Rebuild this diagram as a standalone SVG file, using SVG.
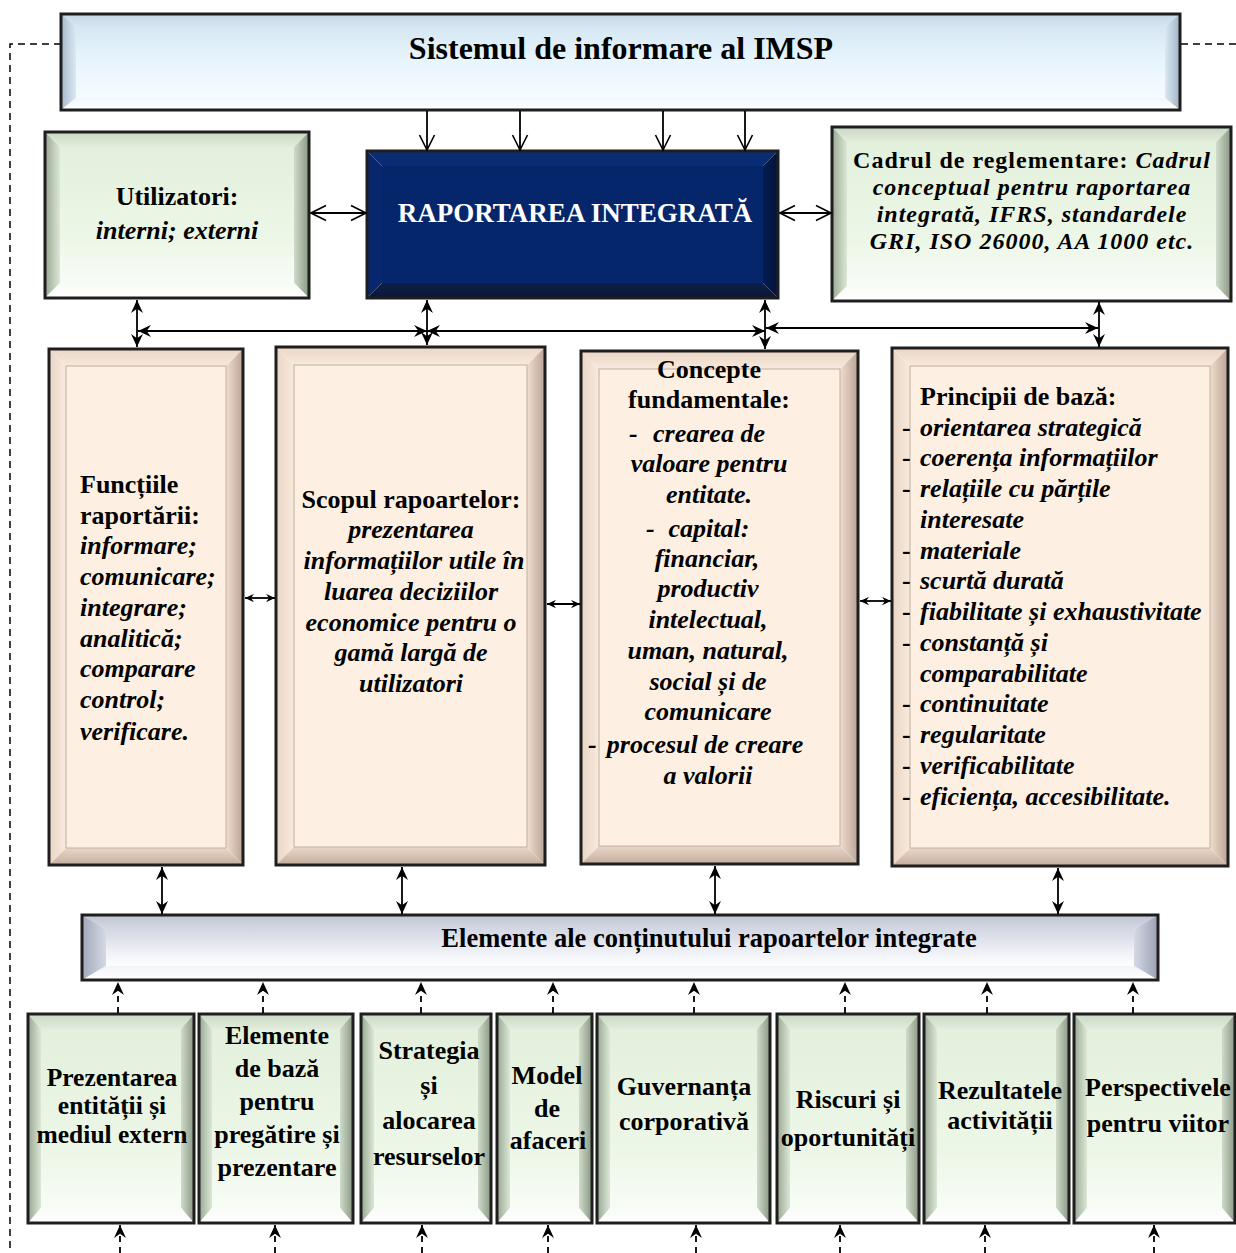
<svg xmlns="http://www.w3.org/2000/svg" width="1236" height="1253" viewBox="0 0 1236 1253">
<defs>
<style>
.t{font-family:'Liberation Serif','Times New Roman',serif;font-size:26px;fill:#000}
.b{font-weight:bold}
.bi{font-weight:bold;font-style:italic}
.i{font-style:italic}
.c{text-anchor:middle}
.cad{font-size:24px;letter-spacing:1px}
.bd{fill:none;stroke:#1e1e1e;stroke-width:3}
.gL{fill:url(#gL)}.gR{fill:url(#gR)}.gT{fill:url(#gT)}.gB{fill:url(#gB)}.gF{fill:url(#gF)}
.pL{fill:url(#pL)}.pR{fill:url(#pR)}.pT{fill:url(#pT)}.pB{fill:url(#pB)}.pF{fill:#fdf0e3;stroke:#c4ae9f;stroke-width:1}
.bL{fill:url(#bL)}.bR{fill:url(#bR)}.bT{fill:url(#bT)}.bB{fill:url(#bB)}.bF{fill:url(#bF)}
.eL{fill:url(#eL)}.eR{fill:url(#eR)}.eT{fill:url(#eT)}.eB{fill:url(#eB)}.eF{fill:url(#eF)}
.nL{fill:#08276e}.nR{fill:url(#nR)}.nT{fill:#0a2c74}.nB{fill:url(#nB)}.nF{fill:#06266c}
.ln{fill:none;stroke:#000;stroke-width:1.8}
.dl{fill:none;stroke:#000;stroke-width:1.8;stroke-dasharray:6 5}
.frame{fill:none;stroke:#000;stroke-width:1.5;stroke-dasharray:7 5}
</style>
<linearGradient id="gL" x1="0" y1="0" x2="1" y2="0"><stop offset="0" stop-color="#97a792"/><stop offset="1" stop-color="#dce8d6"/></linearGradient>
<linearGradient id="gR" x1="0" y1="0" x2="1" y2="0"><stop offset="0" stop-color="#d0dcca"/><stop offset="1" stop-color="#889784"/></linearGradient>
<linearGradient id="gT" x1="0" y1="0" x2="0" y2="1"><stop offset="0" stop-color="#cad7c4"/><stop offset="1" stop-color="#e2ecdc"/></linearGradient>
<linearGradient id="gB" x1="0" y1="0" x2="0" y2="1"><stop offset="0" stop-color="#f7fbf5"/><stop offset="1" stop-color="#ffffff"/></linearGradient>
<linearGradient id="gF" x1="0" y1="0" x2="0" y2="1"><stop offset="0" stop-color="#e3f0dc"/><stop offset="0.7" stop-color="#edf7e8"/><stop offset="1" stop-color="#f8fcf6"/></linearGradient>
<linearGradient id="pL" x1="0" y1="0" x2="1" y2="0"><stop offset="0" stop-color="#e9d5c5"/><stop offset="1" stop-color="#f8eadd"/></linearGradient>
<linearGradient id="pR" x1="0" y1="0" x2="1" y2="0"><stop offset="0" stop-color="#f0ddcf"/><stop offset="1" stop-color="#b9a394"/></linearGradient>
<linearGradient id="pT" x1="0" y1="0" x2="0" y2="1"><stop offset="0" stop-color="#ead6c6"/><stop offset="1" stop-color="#f7e9dc"/></linearGradient>
<linearGradient id="pB" x1="0" y1="0" x2="0" y2="1"><stop offset="0" stop-color="#ead7c8"/><stop offset="1" stop-color="#c4ad9d"/></linearGradient>
<linearGradient id="bL" x1="0" y1="0" x2="1" y2="0"><stop offset="0" stop-color="#a7b8c8"/><stop offset="1" stop-color="#dce9f3"/></linearGradient>
<linearGradient id="bR" x1="0" y1="0" x2="1" y2="0"><stop offset="0" stop-color="#dce9f3"/><stop offset="1" stop-color="#9fb1c2"/></linearGradient>
<linearGradient id="bT" x1="0" y1="0" x2="0" y2="1"><stop offset="0" stop-color="#c6d6e4"/><stop offset="1" stop-color="#d4e4f0"/></linearGradient>
<linearGradient id="bB" x1="0" y1="0" x2="0" y2="1"><stop offset="0" stop-color="#f0f8fd"/><stop offset="1" stop-color="#ffffff"/></linearGradient>
<linearGradient id="bF" x1="0" y1="0" x2="0" y2="1"><stop offset="0" stop-color="#d6e7f3"/><stop offset="0.5" stop-color="#e8f5fd"/><stop offset="1" stop-color="#f6fcff"/></linearGradient>
<linearGradient id="eL" x1="0" y1="0" x2="1" y2="0"><stop offset="0" stop-color="#a0a7b8"/><stop offset="1" stop-color="#d5d9e5"/></linearGradient>
<linearGradient id="eR" x1="0" y1="0" x2="1" y2="0"><stop offset="0" stop-color="#d5d9e5"/><stop offset="1" stop-color="#9aa1b3"/></linearGradient>
<linearGradient id="eT" x1="0" y1="0" x2="0" y2="1"><stop offset="0" stop-color="#c0c5d3"/><stop offset="1" stop-color="#d4d8e4"/></linearGradient>
<linearGradient id="eB" x1="0" y1="0" x2="0" y2="1"><stop offset="0" stop-color="#f2f4f8"/><stop offset="1" stop-color="#ffffff"/></linearGradient>
<linearGradient id="eF" x1="0" y1="0" x2="0" y2="1"><stop offset="0" stop-color="#d3d7e3"/><stop offset="0.6" stop-color="#eef0f6"/><stop offset="1" stop-color="#ffffff"/></linearGradient>
<linearGradient id="nR" x1="0" y1="0" x2="1" y2="0"><stop offset="0" stop-color="#041c52"/><stop offset="1" stop-color="#031338"/></linearGradient>
<linearGradient id="nB" x1="0" y1="0" x2="0" y2="1"><stop offset="0" stop-color="#0d1f48"/><stop offset="1" stop-color="#0a1636"/></linearGradient>
<marker id="ov" viewBox="0 0 12 12" refX="11" refY="6" markerWidth="18" markerHeight="18" markerUnits="userSpaceOnUse" orient="auto-start-reverse"><path d="M1,1 L11,6 L1,11" fill="none" stroke="#000" stroke-width="1.1"/></marker>
<marker id="fa" viewBox="0 0 12 12" refX="12" refY="6" markerWidth="13" markerHeight="13" markerUnits="userSpaceOnUse" orient="auto-start-reverse"><path d="M0,0.5 L12,6 L0,11.5 L4,6 Z" fill="#000"/></marker>
<marker id="sa" viewBox="0 0 12 12" refX="12" refY="6" markerWidth="9" markerHeight="9" markerUnits="userSpaceOnUse" orient="auto-start-reverse"><path d="M0,0.5 L12,6 L0,11.5 L4,6 Z" fill="#000"/></marker>
</defs>
<rect width="1236" height="1253" fill="#fff"/>

<g id="frame">
<path class="frame" d="M61,44 H10 V1253"/>
<path class="frame" d="M1181,44 H1236"/>
</g>

<g id="sistemul">
<polygon class="bT" points="61,14 1180,14 1165,26 76,26"/>
<polygon class="bL" points="61,14 76,26 76,98 61,110"/>
<polygon class="bR" points="1180,14 1180,110 1165,98 1165,26"/>
<polygon class="bB" points="61,110 76,98 1165,98 1180,110"/>
<rect class="bF" x="76" y="26" width="1089" height="72"/>
<rect class="bd" x="61" y="14" width="1119" height="96"/>
<text class="t b c" x="621" y="59" style="font-size:32px">Sistemul de informare al IMSP</text>
</g>

<g id="utilizatori">
<polygon class="gT" points="45,132 309,132 294,147 60,147"/>
<polygon class="gL" points="45,132 60,147 60,283 45,298"/>
<polygon class="gR" points="309,132 309,298 294,283 294,147"/>
<polygon class="gB" points="45,298 60,283 294,283 309,298"/>
<rect class="gF" x="60" y="147" width="234" height="136"/>
<rect class="bd" x="45" y="132" width="264" height="166"/>
<text class="t b c" x="177" y="205">Utilizatori:</text>
<text class="t bi c" x="177" y="239">interni; externi</text>
</g>

<g id="raportarea">
<polygon class="nT" points="367,151 778,151 763,166 382,166"/>
<polygon class="nL" points="367,151 382,166 382,283 367,298"/>
<polygon class="nR" points="778,151 778,298 763,283 763,166"/>
<polygon class="nB" points="367,298 382,283 763,283 778,298"/>
<rect class="nF" x="382" y="166" width="381" height="117"/>
<rect class="bd" x="367" y="151" width="411" height="147"/>
<text class="t b c" x="575" y="222" style="fill:#fff;font-size:27px">RAPORTAREA INTEGRATĂ</text>
</g>

<g id="cadrul">
<polygon class="gT" points="832,127 1231,127 1216,142 847,142"/>
<polygon class="gL" points="832,127 847,142 847,286 832,301"/>
<polygon class="gR" points="1231,127 1231,301 1216,286 1216,142"/>
<polygon class="gB" points="832,301 847,286 1216,286 1231,301"/>
<rect class="gF" x="847" y="142" width="369" height="144"/>
<rect class="bd" x="832" y="127" width="399" height="174"/>
<text class="t cad c" x="1032" y="168"><tspan class="b">Cadrul de reglementare: </tspan><tspan class="bi">Cadrul</tspan></text>
<text class="t cad bi c" x="1032" y="195">conceptual pentru raportarea</text>
<text class="t cad bi c" x="1032" y="222">integrată, IFRS, standardele</text>
<text class="t cad bi c" x="1032" y="249">GRI, ISO 26000, AA 1000 etc.</text>
</g>

<g id="functiile">
<polygon class="pT" points="49,349 243,349 226,366 66,366"/>
<polygon class="pL" points="49,349 66,366 66,848 49,865"/>
<polygon class="pR" points="243,349 243,865 226,848 226,366"/>
<polygon class="pB" points="49,865 66,848 226,848 243,865"/>
<rect class="pF" x="66" y="366" width="160" height="482"/>
<rect class="bd" x="49" y="349" width="194" height="516"/>
<text class="t b" x="80" y="493">Funcțiile</text>
<text class="t b" x="80" y="524">raportării:</text>
<text class="t bi" x="80" y="554">informare;</text>
<text class="t bi" x="80" y="585">comunicare;</text>
<text class="t bi" x="80" y="616">integrare;</text>
<text class="t bi" x="80" y="647">analitică;</text>
<text class="t bi" x="80" y="677">comparare</text>
<text class="t bi" x="80" y="708">control;</text>
<text class="t bi" x="80" y="740">verificare.</text>
</g>

<g id="scopul">
<polygon class="pT" points="276,347 545,347 527,365 294,365"/>
<polygon class="pL" points="276,347 294,365 294,847 276,865"/>
<polygon class="pR" points="545,347 545,865 527,847 527,365"/>
<polygon class="pB" points="276,865 294,847 527,847 545,865"/>
<rect class="pF" x="294" y="365" width="233" height="482"/>
<rect class="bd" x="276" y="347" width="269" height="518"/>
<text class="t b c" x="411" y="508">Scopul rapoartelor:</text>
<text class="t bi c" x="411" y="538">prezentarea</text>
<text class="t bi c" x="414" y="569">informațiilor utile în</text>
<text class="t bi c" x="411" y="600">luarea deciziilor</text>
<text class="t bi c" x="411" y="631">economice pentru o</text>
<text class="t bi c" x="411" y="661">gamă largă de</text>
<text class="t bi c" x="411" y="692">utilizatori</text>
</g>

<g id="concepte">
<polygon class="pT" points="581,351 858,351 840,369 599,369"/>
<polygon class="pL" points="581,351 599,369 599,846 581,864"/>
<polygon class="pR" points="858,351 858,864 840,846 840,369"/>
<polygon class="pB" points="581,864 599,846 840,846 858,864"/>
<rect class="pF" x="599" y="369" width="241" height="477"/>
<rect class="bd" x="581" y="351" width="277" height="513"/>
<text class="t b c" x="709" y="378">Concepte</text>
<text class="t b c" x="709" y="408">fundamentale:</text>
<text class="t bi" x="629" y="442">-</text>
<text class="t bi c" x="709" y="442">crearea de</text>
<text class="t bi c" x="709" y="472">valoare pentru</text>
<text class="t bi c" x="709" y="503">entitate.</text>
<text class="t bi" x="646" y="537">-</text>
<text class="t bi c" x="709" y="537">capital:</text>
<text class="t bi c" x="707" y="567">financiar,</text>
<text class="t bi c" x="708" y="597">productiv</text>
<text class="t bi c" x="708" y="628">intelectual,</text>
<text class="t bi c" x="708" y="659">uman, natural,</text>
<text class="t bi c" x="708" y="690">social și de</text>
<text class="t bi c" x="708" y="720">comunicare</text>
<text class="t bi" x="588" y="753">-</text>
<text class="t bi c" x="705" y="753">procesul de creare</text>
<text class="t bi c" x="708" y="784">a valorii</text>
</g>

<g id="principii">
<polygon class="pT" points="892,348 1228,348 1210,366 910,366"/>
<polygon class="pL" points="892,348 910,366 910,848 892,866"/>
<polygon class="pR" points="1228,348 1228,866 1210,848 1210,366"/>
<polygon class="pB" points="892,866 910,848 1210,848 1228,866"/>
<rect class="pF" x="910" y="366" width="300" height="482"/>
<rect class="bd" x="892" y="348" width="336" height="518"/>
<text class="t b" x="920" y="405">Principii de bază:</text>
<text class="t b" x="902" y="436">-</text><text class="t bi" x="920" y="436">orientarea strategică</text>
<text class="t b" x="902" y="466">-</text><text class="t bi" x="920" y="466">coerența informațiilor</text>
<text class="t b" x="902" y="497">-</text><text class="t bi" x="920" y="497">relațiile cu părțile</text>
<text class="t bi" x="920" y="528">interesate</text>
<text class="t b" x="902" y="559">-</text><text class="t bi" x="920" y="559">materiale</text>
<text class="t b" x="902" y="589">-</text><text class="t bi" x="920" y="589">scurtă durată</text>
<text class="t b" x="902" y="620">-</text><text class="t bi" x="920" y="620">fiabilitate și exhaustivitate</text>
<text class="t b" x="902" y="651">-</text><text class="t bi" x="920" y="651">constanță și</text>
<text class="t bi" x="920" y="682">comparabilitate</text>
<text class="t b" x="902" y="712">-</text><text class="t bi" x="920" y="712">continuitate</text>
<text class="t b" x="902" y="743">-</text><text class="t bi" x="920" y="743">regularitate</text>
<text class="t b" x="902" y="774">-</text><text class="t bi" x="920" y="774">verificabilitate</text>
<text class="t b" x="902" y="805">-</text><text class="t bi" x="920" y="805">eficiența, accesibilitate.</text>
</g>

<g id="elemente-continut">
<polygon class="eT" points="82,915 1158,915 1134,929 106,929"/>
<polygon class="eL" points="82,915 106,929 106,966 82,980"/>
<polygon class="eR" points="1158,915 1158,980 1134,966 1134,929"/>
<polygon class="eB" points="82,980 106,966 1134,966 1158,980"/>
<rect class="eF" x="106" y="929" width="1028" height="37"/>
<rect class="bd" x="82" y="915" width="1076" height="65"/>
<text class="t b c" x="709" y="947" style="font-size:26.5px">Elemente ale conținutului rapoartelor integrate</text>
</g>

<g id="prezentarea">
<polygon class="gT" points="28,1014 194,1014 181,1029 41,1029"/>
<polygon class="gL" points="28,1014 41,1029 41,1208 28,1223"/>
<polygon class="gR" points="194,1014 194,1223 181,1208 181,1029"/>
<polygon class="gB" points="28,1223 41,1208 181,1208 194,1223"/>
<rect class="gF" x="41" y="1029" width="140" height="179"/>
<rect class="bd" x="28" y="1014" width="166" height="209"/>
<text class="t b c" x="112" y="1086" style="font-size:25.5px">Prezentarea</text>
<text class="t b c" x="112" y="1114" style="font-size:25.5px">entității și</text>
<text class="t b c" x="112" y="1143" style="font-size:25.5px">mediul extern</text>
</g>

<g id="elemente-baza">
<polygon class="gT" points="199,1014 353,1014 340,1029 212,1029"/>
<polygon class="gL" points="199,1014 212,1029 212,1208 199,1223"/>
<polygon class="gR" points="353,1014 353,1223 340,1208 340,1029"/>
<polygon class="gB" points="199,1223 212,1208 340,1208 353,1223"/>
<rect class="gF" x="212" y="1029" width="128" height="179"/>
<rect class="bd" x="199" y="1014" width="154" height="209"/>
<text class="t b c" x="277" y="1044">Elemente</text>
<text class="t b c" x="277" y="1077">de bază</text>
<text class="t b c" x="277" y="1110">pentru</text>
<text class="t b c" x="277" y="1143">pregătire și</text>
<text class="t b c" x="277" y="1176">prezentare</text>
</g>

<g id="strategia">
<polygon class="gT" points="361,1014 491,1014 478,1029 374,1029"/>
<polygon class="gL" points="361,1014 374,1029 374,1208 361,1223"/>
<polygon class="gR" points="491,1014 491,1223 478,1208 478,1029"/>
<polygon class="gB" points="361,1223 374,1208 478,1208 491,1223"/>
<rect class="gF" x="374" y="1029" width="104" height="179"/>
<rect class="bd" x="361" y="1014" width="130" height="209"/>
<text class="t b c" x="429" y="1059">Strategia</text>
<text class="t b c" x="429" y="1094">și</text>
<text class="t b c" x="429" y="1129">alocarea</text>
<text class="t b c" x="429" y="1165">resurselor</text>
</g>

<g id="model">
<polygon class="gT" points="497,1014 592,1014 579,1029 510,1029"/>
<polygon class="gL" points="497,1014 510,1029 510,1208 497,1223"/>
<polygon class="gR" points="592,1014 592,1223 579,1208 579,1029"/>
<polygon class="gB" points="497,1223 510,1208 579,1208 592,1223"/>
<rect class="gF" x="510" y="1029" width="69" height="179"/>
<rect class="bd" x="497" y="1014" width="95" height="209"/>
<text class="t b c" x="547" y="1084">Model</text>
<text class="t b c" x="547" y="1117">de</text>
<text class="t b c" x="548" y="1149">afaceri</text>
</g>

<g id="guvernanta">
<polygon class="gT" points="597,1014 770,1014 757,1029 610,1029"/>
<polygon class="gL" points="597,1014 610,1029 610,1208 597,1223"/>
<polygon class="gR" points="770,1014 770,1223 757,1208 757,1029"/>
<polygon class="gB" points="597,1223 610,1208 757,1208 770,1223"/>
<rect class="gF" x="610" y="1029" width="147" height="179"/>
<rect class="bd" x="597" y="1014" width="173" height="209"/>
<text class="t b c" x="684" y="1095">Guvernanța</text>
<text class="t b c" x="684" y="1130">corporativă</text>
</g>

<g id="riscuri">
<polygon class="gT" points="777,1014 919,1014 906,1029 790,1029"/>
<polygon class="gL" points="777,1014 790,1029 790,1208 777,1223"/>
<polygon class="gR" points="919,1014 919,1223 906,1208 906,1029"/>
<polygon class="gB" points="777,1223 790,1208 906,1208 919,1223"/>
<rect class="gF" x="790" y="1029" width="116" height="179"/>
<rect class="bd" x="777" y="1014" width="142" height="209"/>
<text class="t b c" x="848" y="1108">Riscuri și</text>
<text class="t b c" x="848" y="1146">oportunități</text>
</g>

<g id="rezultatele">
<polygon class="gT" points="924,1014 1069,1014 1056,1029 937,1029"/>
<polygon class="gL" points="924,1014 937,1029 937,1208 924,1223"/>
<polygon class="gR" points="1069,1014 1069,1223 1056,1208 1056,1029"/>
<polygon class="gB" points="924,1223 937,1208 1056,1208 1069,1223"/>
<rect class="gF" x="937" y="1029" width="119" height="179"/>
<rect class="bd" x="924" y="1014" width="145" height="209"/>
<text class="t b c" x="1000" y="1099">Rezultatele</text>
<text class="t b c" x="1000" y="1129">activității</text>
</g>

<g id="perspectivele">
<polygon class="gT" points="1074,1014 1235,1014 1222,1029 1087,1029"/>
<polygon class="gL" points="1074,1014 1087,1029 1087,1208 1074,1223"/>
<polygon class="gR" points="1235,1014 1235,1223 1222,1208 1222,1029"/>
<polygon class="gB" points="1074,1223 1087,1208 1222,1208 1235,1223"/>
<rect class="gF" x="1087" y="1029" width="135" height="179"/>
<rect class="bd" x="1074" y="1014" width="161" height="209"/>
<text class="t b c" x="1158" y="1096">Perspectivele</text>
<text class="t b c" x="1158" y="1132">pentru viitor</text>
</g>

<g id="connectors">
<line class="ln" x1="427" y1="111" x2="427" y2="150" marker-end="url(#ov)"/>
<line class="ln" x1="520" y1="111" x2="520" y2="150" marker-end="url(#ov)"/>
<line class="ln" x1="663" y1="111" x2="663" y2="150" marker-end="url(#ov)"/>
<line class="ln" x1="745" y1="111" x2="745" y2="150" marker-end="url(#ov)"/>
<line class="ln" x1="311" y1="213" x2="366" y2="213" marker-start="url(#ov)" marker-end="url(#ov)"/>
<line class="ln" x1="780" y1="213" x2="831" y2="213" marker-start="url(#ov)" marker-end="url(#ov)"/>
<line class="ln" x1="137" y1="300" x2="137" y2="347" marker-start="url(#fa)" marker-end="url(#fa)"/>
<line class="ln" x1="427" y1="300" x2="427" y2="345" marker-start="url(#fa)" marker-end="url(#fa)"/>
<line class="ln" x1="765" y1="300" x2="765" y2="349" marker-start="url(#fa)" marker-end="url(#fa)"/>
<line class="ln" x1="1099" y1="302" x2="1099" y2="347" marker-start="url(#fa)" marker-end="url(#fa)"/>
<line class="ln" x1="138" y1="331" x2="427" y2="331" marker-start="url(#fa)" marker-end="url(#fa)"/>
<line class="ln" x1="427" y1="331" x2="765" y2="331" marker-start="url(#fa)" marker-end="url(#fa)"/>
<line class="ln" x1="766" y1="328" x2="1098" y2="328" marker-start="url(#fa)" marker-end="url(#fa)"/>
<line class="ln" x1="245" y1="598" x2="275" y2="598" marker-start="url(#sa)" marker-end="url(#sa)"/>
<line class="ln" x1="547" y1="604" x2="580" y2="604" marker-start="url(#sa)" marker-end="url(#sa)"/>
<line class="ln" x1="860" y1="601" x2="891" y2="601" marker-start="url(#sa)" marker-end="url(#sa)"/>
<line class="ln" x1="162" y1="867" x2="162" y2="914" marker-start="url(#fa)" marker-end="url(#fa)"/>
<line class="ln" x1="402" y1="867" x2="402" y2="914" marker-start="url(#fa)" marker-end="url(#fa)"/>
<line class="ln" x1="715" y1="866" x2="715" y2="914" marker-start="url(#fa)" marker-end="url(#fa)"/>
<line class="ln" x1="1058" y1="868" x2="1058" y2="914" marker-start="url(#fa)" marker-end="url(#fa)"/>
<line class="dl" x1="118" y1="1013" x2="118" y2="982" marker-end="url(#fa)"/>
<line class="dl" x1="263" y1="1013" x2="263" y2="982" marker-end="url(#fa)"/>
<line class="dl" x1="421" y1="1013" x2="421" y2="982" marker-end="url(#fa)"/>
<line class="dl" x1="553" y1="1013" x2="553" y2="982" marker-end="url(#fa)"/>
<line class="dl" x1="694" y1="1013" x2="694" y2="982" marker-end="url(#fa)"/>
<line class="dl" x1="845" y1="1013" x2="845" y2="982" marker-end="url(#fa)"/>
<line class="dl" x1="987" y1="1013" x2="987" y2="982" marker-end="url(#fa)"/>
<line class="dl" x1="1133" y1="1013" x2="1133" y2="982" marker-end="url(#fa)"/>
<line class="dl" x1="120" y1="1253" x2="120" y2="1225" marker-end="url(#fa)"/>
<line class="dl" x1="275" y1="1253" x2="275" y2="1225" marker-end="url(#fa)"/>
<line class="dl" x1="422" y1="1253" x2="422" y2="1225" marker-end="url(#fa)"/>
<line class="dl" x1="548" y1="1253" x2="548" y2="1225" marker-end="url(#fa)"/>
<line class="dl" x1="696" y1="1253" x2="696" y2="1225" marker-end="url(#fa)"/>
<line class="dl" x1="840" y1="1253" x2="840" y2="1225" marker-end="url(#fa)"/>
<line class="dl" x1="985" y1="1253" x2="985" y2="1225" marker-end="url(#fa)"/>
<line class="dl" x1="1154" y1="1253" x2="1154" y2="1225" marker-end="url(#fa)"/>
</g>
</svg>
